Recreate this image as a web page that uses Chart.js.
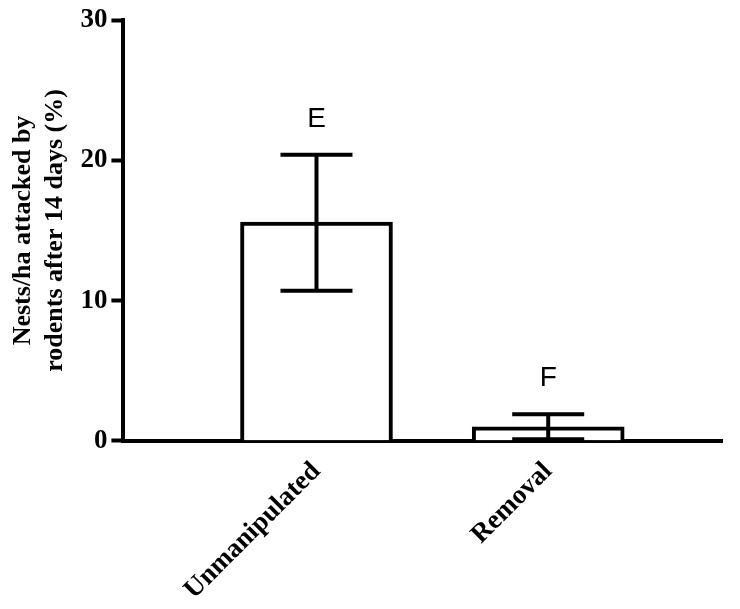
<!DOCTYPE html>
<html><head><script src="https://cdn.jsdelivr.net/npm/chart.js@4"></script>
<style>body{margin:0;background:#fff}#w{width:740px;height:609px}</style></head>
<body><div id="w"><canvas id="c"></canvas></div>
<script>
// values
const categories = ["Unmanipulated", "Removal"];
const xPos = [1, 2.2];
const means = [15.6, 1.0];
const errLow = [10.7, 0.1];
const errHigh = [20.4, 1.9];
const letters = ["E", "F"];
const yTicks = [0, 10, 20, 30];

const serif = "'Liberation Serif', 'DejaVu Serif', serif";

const extras = {
  id: "extras",
  afterDatasetsDraw(chart) {
    const ctx = chart.ctx, x = chart.scales.x, y = chart.scales.y;
    ctx.save();
    ctx.strokeStyle = "#000"; ctx.lineWidth = 4;
    xPos.forEach((v, i) => {
      const px = x.getPixelForValue(v);
      const lo = y.getPixelForValue(errLow[i]), hi = y.getPixelForValue(errHigh[i]);
      ctx.beginPath();
      ctx.moveTo(px, lo); ctx.lineTo(px, hi);
      ctx.moveTo(px - 36, lo); ctx.lineTo(px + 36, lo);
      ctx.moveTo(px - 36, hi); ctx.lineTo(px + 36, hi);
      ctx.stroke();
      ctx.fillStyle = "#000";
      ctx.font = "28px 'Liberation Sans', Arial, sans-serif";
      ctx.textAlign = "center"; ctx.textBaseline = "bottom";
      ctx.fillText(letters[i], px, hi - 22);
    });
    ctx.restore();
  }
};

new Chart(document.getElementById("c"), {
  type: "bar",
  data: {
    datasets: [{
      data: xPos.map((v, i) => ({x: v, y: means[i]})),
      backgroundColor: "#fff", borderColor: "#000", borderWidth: 4,
      barThickness: 152
    }]
  },
  options: {
    responsive: true, maintainAspectRatio: false, animation: false,
    layout: {padding: {top: 8, right: 18, left: 2, bottom: 0}},
    plugins: {legend: {display: false}, tooltip: {enabled: false}},
    scales: {
      x: {
        type: "linear", min: 0, max: 3.1, offset: false,
        afterBuildTicks: s => { s.ticks = xPos.map(v => ({value: v})); },
        grid: {display: false, drawOnChartArea: false, tickLength: 12, tickWidth: 4, tickColor: "#000"},
        border: {color: "#000", width: 4},
        ticks: {
          callback: (v) => categories[xPos.indexOf(v)],
          maxRotation: 45, minRotation: 45,
          color: "#000", font: {family: serif, size: 27, weight: "bold"}
        }
      },
      y: {
        min: 0, max: 30,
        afterBuildTicks: s => { s.ticks = yTicks.map(v => ({value: v})); },
        grid: {drawOnChartArea: false, tickLength: 12, tickWidth: 4, tickColor: "#000"},
        border: {color: "#000", width: 4},
        ticks: {color: "#000", font: {family: serif, size: 27, weight: "bold"}, padding: 4},
        title: {
          display: true, text: ["Nests/ha attacked by", "rodents after 14 days (%)"],
          color: "#000", font: {family: serif, size: 26, weight: "bold"}, padding: 6
        }
      }
    }
  },
  plugins: [extras]
});
</script></body></html>
